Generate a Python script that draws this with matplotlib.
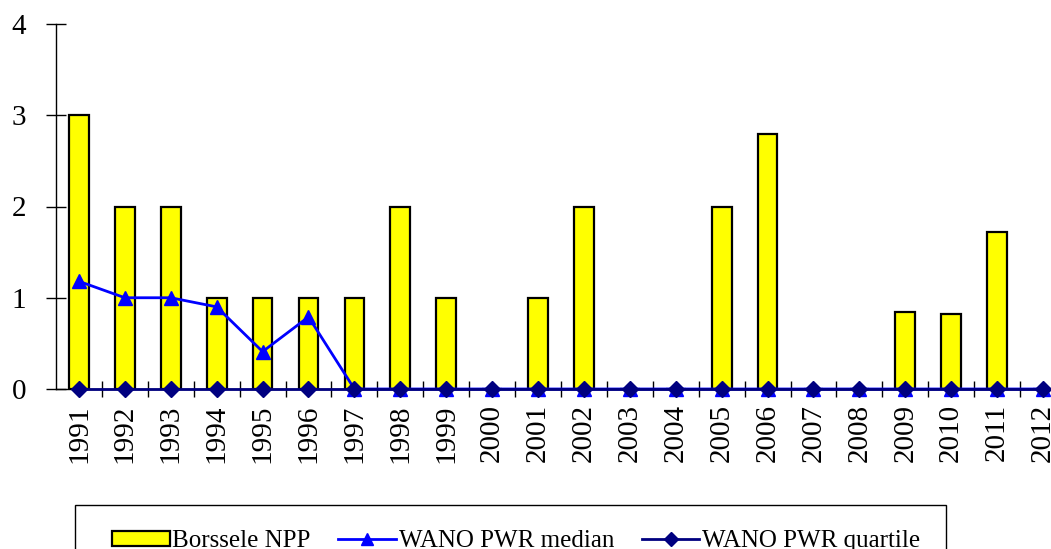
import matplotlib
matplotlib.use("Agg")
import matplotlib.pyplot as plt
import numpy as np
from matplotlib.ticker import FixedLocator
from matplotlib.patches import Rectangle

years = [str(y) for y in range(1991, 2013)]
borssele = [3, 2, 2, 1, 1, 1, 1, 2, 1, 0, 1, 2, 0, 0, 2, 2.8, 0, 0, 0.84, 0.82, 1.72, 0]
median = [1.18, 1.0, 1.0, 0.9, 0.41, 0.79, 0, 0, 0, 0, 0, 0, 0, 0, 0, 0, 0, 0, 0, 0, 0, 0]
quartile = [0] * 22

plt.rcParams['font.family'] = ['Liberation Serif', 'DejaVu Serif']

W, H = 1051, 549
fig = plt.figure(figsize=(W / 100, H / 100), dpi=100)
ax = fig.add_axes([56 / W, 160 / H, (1066 - 56) / W, (525 - 160) / H])

x = np.arange(len(years))
hb = ax.bar(x, borssele, width=0.43, color='#FFFF00', edgecolor='black', linewidth=1.6,
            label='Borssele NPP', zorder=2)
hm, = ax.plot(x, median, color='#0000FF', lw=2, marker='^', ms=10, label='WANO PWR median',
              zorder=3, clip_on=False)
hq, = ax.plot(x, quartile, color='#000080', lw=2, marker='D', ms=8.5, label='WANO PWR quartile',
              zorder=4, clip_on=False)

ax.set_xlim(-0.5, len(years) - 0.5)
ax.set_ylim(0, 4)
ax.set_yticks([0, 1, 2, 3, 4])
ax.set_xticks(x)
ax.set_xticklabels(years, rotation=90, fontsize=21)
ax.xaxis.set_minor_locator(FixedLocator(np.arange(0.5, len(years), 1)))
ax.tick_params(axis='x', which='major', length=0, pad=11)
ax.tick_params(axis='x', which='minor', direction='inout', length=12, width=1)
ax.tick_params(axis='y', direction='inout', length=15, width=1, pad=14, labelsize=21)

for s in ['top', 'right']:
    ax.spines[s].set_visible(False)
ax.spines['left'].set_linewidth(1)
ax.spines['bottom'].set_linewidth(1)

# legend frame (cut off at the bottom edge like the reference)
fig.patches.append(Rectangle((75 / W, -40 / H), (946 - 75) / W, (549 - 505 + 40) / H,
                             transform=fig.transFigure, facecolor='white',
                             edgecolor='black', linewidth=1, zorder=0))
leg = fig.legend([hb, hm, hq], ['Borssele NPP', 'WANO PWR median', 'WANO PWR quartile'],
                 loc='center left', bbox_to_anchor=(112 / W, 1 - 541 / H), ncol=3,
                 fontsize=18, frameon=False, borderpad=0, handlelength=2.3,
                 handleheight=0.55, columnspacing=1.1, handletextpad=0.12, borderaxespad=0,
                 markerscale=0.8)

fig.savefig('out.png', dpi=100)
